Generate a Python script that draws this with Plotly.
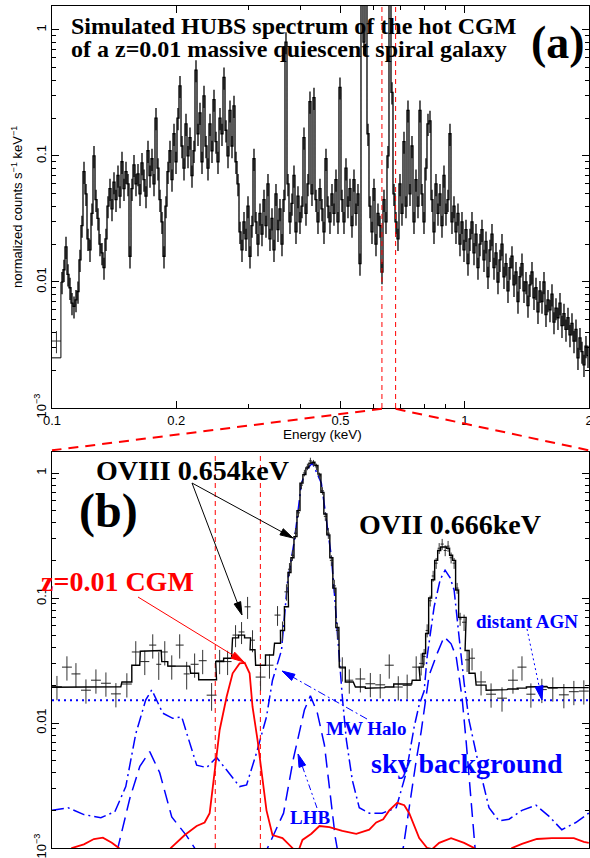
import math
import numpy as np
import plotly.graph_objects as go

# ============================ DATA ============================
# ---- panel (a): full-band simulated HUBS spectrum (normalized counts s^-1 keV^-1)
# bins are narrow, log-spaced; first / last bin centres in keV
spec_e_min, spec_e_max = 10 ** -0.97577, 10 ** 0.29857
spec_counts = [
    0.0100, 0.0125, 0.019, 0.0115, 0.0090, 0.0068, 0.0064, 0.0072, 0.0084, 0.0150,
    0.028, 0.075, 0.050, 0.022, 0.018, 0.035, 0.100, 0.045, 0.032, 0.020,
    0.017, 0.013, 0.022, 0.040, 0.055, 0.038, 0.062, 0.045, 0.070, 0.048,
    0.090, 0.055, 0.075, 0.060, 0.016, 0.055, 0.085, 0.060, 0.072, 0.050,
    0.088, 0.065, 0.048, 0.110, 0.070, 0.095, 0.060, 0.200, 0.080, 0.045,
    0.030, 0.016, 0.040, 0.075, 0.110, 0.065, 0.150, 0.090, 0.200, 0.360,
    0.120, 0.080, 0.180, 0.100, 0.140, 0.070, 0.110, 0.480, 0.150, 0.220,
    0.090, 0.300, 0.120, 0.080, 0.180, 0.110, 0.280, 0.130, 0.090, 0.200,
    0.150, 0.420, 0.160, 0.100, 0.230, 0.120, 0.250, 0.090, 0.060, 0.025,
    0.018, 0.030, 0.022, 0.040, 0.016, 0.028, 0.095, 0.030, 0.020, 0.035,
    0.024, 0.045, 0.028, 0.060, 0.022, 0.032, 0.018, 0.050, 0.026, 0.038,
    0.020, 0.045, 0.800, 0.060, 0.030, 0.042, 0.070, 0.025, 0.048, 0.030,
    0.040, 0.140, 0.035, 0.060, 0.270, 0.050, 0.290, 0.045, 0.030, 0.055,
    0.038, 0.025, 0.095, 0.040, 0.030, 0.050, 0.035, 0.065, 0.030, 0.350,
    0.045, 0.030, 0.080, 0.040, 0.055, 0.028, 0.065, 0.035, 0.050, 0.014,
    3.0, 0.8, 4.0, 0.15, 0.040, 0.025, 0.055, 0.020, 0.035, 0.028,
    0.012, 0.045, 0.030, 0.100, 3.0, 0.320, 0.050, 0.030, 0.022, 0.060,
    0.035, 0.130, 0.040, 0.230, 0.050, 0.120, 0.030, 0.065, 0.040, 0.230,
    0.050, 0.030, 0.080, 0.180, 0.190, 0.045, 0.025, 0.060, 0.035, 0.050,
    0.028, 0.070, 0.035, 0.045, 0.150, 0.030, 0.040, 0.025, 0.035, 0.020,
    0.030, 0.018, 0.026, 0.014, 0.022, 0.030, 0.017, 0.024, 0.013, 0.020,
    0.026, 0.015, 0.021, 0.011, 0.018, 0.024, 0.013, 0.017, 0.010, 0.015,
    0.020, 0.011, 0.014, 0.0085, 0.013, 0.016, 0.0095, 0.012, 0.0070, 0.011,
    0.014, 0.0085, 0.010, 0.0065, 0.0095, 0.012, 0.0075, 0.0090, 0.0058, 0.0085,
    0.0070, 0.0100, 0.0055, 0.0072, 0.0060, 0.0080, 0.0048, 0.0062, 0.0052, 0.0068,
    0.0045, 0.0056, 0.0042, 0.0052, 0.0038, 0.0047, 0.0034, 0.0042, 0.0025, 0.0036,
    0.0028, 0.0022, 0.0031, 0.0026,
]
spec_rel_err = 0.20
first_bin_edges = [0.100, 0.1051]     # wide lowest-energy bin (keV)
first_bin_data = 0.0034
first_bin_model = 0.0025
zoom_window_kev = [0.630, 0.680]      # region shown in panel (b)

# ---- panel (b): zoom on the O VIII / O VII region (energies in eV)
zoom_e_ev = [
    630.46, 631.39, 632.23, 633.16, 634.09, 635.02, 635.95, 636.97, 637.80, 638.64,
    639.38, 639.94, 640.50, 641.15, 641.89, 642.54, 643.28, 644.03, 644.86, 645.61,
    646.35, 647.09, 647.65, 648.21, 648.67, 649.42, 650.25, 651.00, 651.46, 651.83,
    652.11, 652.39, 652.67, 652.95, 653.23, 653.50, 653.78, 654.06, 654.34, 654.62,
    654.90, 655.18, 655.45, 655.73, 656.01, 656.29, 656.57, 657.03, 657.68, 658.71,
    659.64, 660.56, 661.40, 662.24, 663.07, 663.91, 664.37, 664.65, 664.93, 665.21,
    665.49, 665.77, 666.05, 666.33, 666.61, 666.88, 667.16, 667.44, 667.72, 668.00,
    668.37, 668.65, 669.11, 669.95, 670.88, 671.90, 672.92, 673.76, 674.59, 675.61,
    676.63, 677.66, 678.59, 679.52,
]
zoom_hw_ev = [
    0.46, 0.46, 0.42, 0.46, 0.46, 0.46, 0.46, 0.46, 0.37, 0.42,
    0.33, 0.23, 0.28, 0.37, 0.37, 0.28, 0.37, 0.37, 0.46, 0.37,
    0.37, 0.28, 0.28, 0.28, 0.23, 0.46, 0.37, 0.28, 0.19, 0.19,
    0.14, 0.14, 0.14, 0.14, 0.14, 0.14, 0.14, 0.14, 0.14, 0.14,
    0.14, 0.14, 0.14, 0.14, 0.14, 0.14, 0.14, 0.28, 0.37, 0.46,
    0.46, 0.46, 0.42, 0.42, 0.42, 0.37, 0.19, 0.14, 0.14, 0.14,
    0.14, 0.14, 0.14, 0.14, 0.14, 0.14, 0.14, 0.14, 0.14, 0.14,
    0.19, 0.19, 0.28, 0.46, 0.46, 0.46, 0.46, 0.42, 0.42, 0.46,
    0.46, 0.46, 0.46, 0.46,
]
zoom_data = [
    0.0195, 0.0280, 0.0247, 0.0183, 0.0220, 0.0208, 0.0171, 0.0205, 0.0370, 0.0310,
    0.0420, 0.0295, 0.0370, 0.0285, 0.0420, 0.0247, 0.0295, 0.0315, 0.0167, 0.0315,
    0.0310, 0.0505, 0.0535, 0.0850, 0.0460, 0.0233, 0.0290, 0.0730, 0.0550, 0.1120,
    0.17, 0.22, 0.33, 0.48, 0.80, 1.00, 1.12, 1.25, 1.20, 1.12,
    0.95, 0.72, 0.45, 0.33, 0.20, 0.125, 0.055, 0.0275, 0.0220, 0.0225,
    0.0206, 0.0202, 0.0290, 0.0194, 0.0200, 0.0280, 0.0300, 0.034, 0.055, 0.095,
    0.15, 0.19, 0.25, 0.27, 0.24, 0.26, 0.21, 0.19, 0.12, 0.068,
    0.064, 0.032, 0.033, 0.0213, 0.0170, 0.0158, 0.0220, 0.0280, 0.0170, 0.0185,
    0.0190, 0.0168, 0.0178, 0.0180,
]
zoom_model = [
    0.0193, 0.0193, 0.0193, 0.0193, 0.0193, 0.0193, 0.0195, 0.0213, 0.0290, 0.0375,
    0.0380, 0.0380, 0.0310, 0.0285, 0.0285, 0.0285, 0.0250, 0.0222, 0.0222, 0.0310,
    0.0330, 0.0480, 0.0505, 0.0480, 0.0385, 0.0290, 0.0350, 0.0435, 0.0550, 0.0850,
    0.16, 0.21, 0.31, 0.50, 0.83, 0.97, 1.10, 1.20, 1.22, 1.15,
    0.98, 0.70, 0.47, 0.32, 0.21, 0.12, 0.058, 0.0280, 0.0213, 0.0194,
    0.0190, 0.0192, 0.0194, 0.0205, 0.0205, 0.0220, 0.0280, 0.036, 0.052, 0.10,
    0.14, 0.20, 0.24, 0.256, 0.256, 0.25, 0.22, 0.20, 0.116, 0.070,
    0.070, 0.038, 0.025, 0.0201, 0.0183, 0.0185, 0.0187, 0.0190, 0.0194, 0.0196,
    0.0192, 0.0190, 0.0190, 0.0192,
]
zoom_rel_err = [
    0.22, 0.22, 0.22, 0.22, 0.22, 0.22, 0.22, 0.22, 0.22, 0.22,
    0.22, 0.25, 0.22, 0.22, 0.22, 0.25, 0.22, 0.22, 0.25, 0.22,
    0.22, 0.20, 0.20, 0.20, 0.20, 0.22, 0.22, 0.18, 0.18, 0.15,
    0.12, 0.10, 0.10, 0.08, 0.07, 0.06, 0.06, 0.06, 0.06, 0.06,
    0.06, 0.07, 0.08, 0.10, 0.10, 0.12, 0.15, 0.22, 0.22, 0.22,
    0.22, 0.22, 0.22, 0.22, 0.22, 0.22, 0.20, 0.15, 0.12, 0.10,
    0.10, 0.10, 0.10, 0.10, 0.10, 0.10, 0.10, 0.10, 0.10, 0.12,
    0.15, 0.20, 0.20, 0.22, 0.22, 0.22, 0.22, 0.22, 0.22, 0.22,
    0.22, 0.22, 0.22, 0.22,
]
# MW halo component (dash-dot)
halo_e_ev = [
    630.00, 631.49, 632.97, 634.55, 635.85, 636.87, 637.80, 638.73, 639.29, 640.31,
    641.24, 642.08, 642.54, 643.47, 644.40, 645.33, 646.26, 647.47, 648.12, 649.05,
    649.97, 650.53, 651.37, 651.65, 651.92, 652.57, 653.23, 653.69, 654.25, 655.08,
    655.64, 656.01, 656.29, 656.57, 656.75, 657.03, 657.41, 657.96, 658.61, 659.54,
    660.75, 662.05, 662.98, 663.72, 664.19, 664.65, 664.93, 665.58, 666.14, 666.60,
    667.07, 667.44, 667.90, 668.37, 668.83, 669.76, 670.69, 671.62, 672.55, 673.76,
    675.06, 676.26, 677.47, 678.77, 679.98,
]
halo_val = [
    0.0020, 0.0021, 0.00185, 0.00175, 0.00195, 0.0031, 0.0082, 0.0153, 0.0184, 0.0120,
    0.0109, 0.0112, 0.0083, 0.0046, 0.0044, 0.0053, 0.0042, 0.0031, 0.0032, 0.0058,
    0.0112, 0.0220, 0.0382, 0.076, 0.132, 0.29, 0.83, 1.06, 1.20, 0.83,
    0.37, 0.214, 0.11, 0.053, 0.034, 0.0162, 0.0073, 0.0035, 0.0021, 0.0019,
    0.0019, 0.0021, 0.0040, 0.0093, 0.0140, 0.018, 0.034, 0.085, 0.14, 0.167,
    0.145, 0.116, 0.049, 0.021, 0.0105, 0.0045, 0.0021, 0.00165, 0.0017, 0.0020,
    0.0022, 0.0018, 0.0014, 0.0016, 0.0019,
]
# Local Hot Bubble component (dashed)
lhb_e_ev = [
    630.00, 635.39, 636.13, 637.25, 638.18, 639.10, 640.03, 641.15, 642.54, 643.28,
    644.21, 649.32, 650.07, 651.56, 652.48, 653.50, 654.06, 654.71, 655.36, 655.92,
    656.38, 656.75, 657.22, 661.87, 662.70, 663.91, 664.37, 665.11, 665.86, 666.51,
    667.16, 667.63, 668.18, 668.55, 669.02, 669.39, 669.95, 679.98,
]
lhb_val = [
    0.0005, 0.0006, 0.0010, 0.0025, 0.0045, 0.0059, 0.0040, 0.00177, 0.00125, 0.0010,
    0.0006, 0.0006, 0.0010, 0.0019, 0.0052, 0.0127, 0.0165, 0.0120, 0.0067, 0.0025,
    0.00121, 0.0008, 0.0005, 0.0005, 0.0010, 0.0050, 0.0085, 0.024, 0.036, 0.049,
    0.043, 0.034, 0.016, 0.0073, 0.0025, 0.0010, 0.0005, 0.0005,
]
# z=0.01 CGM component (red)
cgm_e_ev = [
    630.00, 631.21, 631.86, 632.97, 633.90, 634.74, 635.57, 636.22, 637.06, 640.50,
    641.06, 642.36, 643.47, 644.21, 644.68, 645.14, 645.61, 646.26, 646.82, 647.47,
    647.94, 648.40, 648.67, 649.14, 649.61, 649.97, 650.53, 651.46, 652.39, 652.85,
    653.32, 654.15, 654.90, 655.83, 657.03, 658.33, 659.54, 660.19, 660.84, 661.40,
    662.14, 662.80, 663.26, 664.19, 664.93, 665.40, 666.05, 667.16, 668.37, 669.30,
    669.95, 671.62, 672.36, 672.83, 673.76, 675.15, 676.54, 677.75, 678.59, 679.52,
    679.98,
]
cgm_val = [
    0.0006, 0.0008, 0.00100, 0.00107, 0.00118, 0.00121, 0.0011, 0.00100, 0.0008, 0.0008,
    0.00100, 0.00127, 0.0015, 0.0016, 0.0019, 0.0040, 0.0088, 0.0162, 0.025, 0.030,
    0.0303, 0.025, 0.0135, 0.0073, 0.0033, 0.0020, 0.00127, 0.0012, 0.00100, 0.0009,
    0.00116, 0.0013, 0.0015, 0.00147, 0.00137, 0.0013, 0.0014, 0.0016, 0.0017, 0.0020,
    0.0023, 0.0022, 0.0019, 0.0012, 0.00100, 0.00098, 0.0011, 0.0012, 0.0011, 0.0010,
    0.0008, 0.0007, 0.0009, 0.0010, 0.00108, 0.00118, 0.0012, 0.0012, 0.0012, 0.00112,
    0.0011,
]
agn_level = 0.0152                 # distant AGN (flat, dotted)
cgm_window_ev = [645.2, 649.4]     # red dashed lines in panel (b)

# ============================ LAYOUT HELPERS ============================
W, H = 590, 858
ML, MR, MT, MB = 52, 1, 6, 10
PW, PH = W - ML - MR, H - MT - MB


def pxp(x):
    return (x - ML) / PW


def pyp(y):
    return (H - MB - y) / PH


TOP_DOM = [pyp(408), 1.0]
BOT_DOM = [0.0, pyp(452)]
TOP_YR = [-3, 0.19]
BOT_YR = [-3, 0.168]
TOP_XR = [-1, math.log10(2)]
BLUE = "#0000ff"
RED = "#ff0000"

fig = go.Figure()

# ============================ PANEL (a) ============================
spec_e = np.geomspace(spec_e_min, spec_e_max, len(spec_counts))
spec_y = np.array(spec_counts)
fig.add_trace(go.Scatter(
    x=spec_e, y=spec_y, mode="markers",
    marker=dict(size=1, color="rgba(0,0,0,0)"),
    error_y=dict(type="data", array=spec_y * spec_rel_err, arrayminus=spec_y * spec_rel_err,
                 color="#000000", thickness=1.3, width=0),
    xaxis="x", yaxis="y", hoverinfo="skip"))
fig.add_trace(go.Scatter(
    x=spec_e, y=spec_y, mode="lines", line=dict(color="black", width=1.3, shape="hvh"),
    xaxis="x", yaxis="y", hoverinfo="skip"))
fb_c = math.sqrt(first_bin_edges[0] * first_bin_edges[1])
fig.add_trace(go.Scatter(
    x=[fb_c], y=[first_bin_data], mode="markers", marker=dict(size=1, color="rgba(0,0,0,0)"),
    error_x=dict(type="data", array=[first_bin_edges[1] - fb_c], arrayminus=[fb_c - first_bin_edges[0]],
                 color="#333333", thickness=1, width=0),
    error_y=dict(type="data", array=[first_bin_data * spec_rel_err], arrayminus=[first_bin_data * spec_rel_err],
                 color="#333333", thickness=1, width=0),
    xaxis="x", yaxis="y"))
fig.add_trace(go.Scatter(
    x=[first_bin_edges[0], first_bin_edges[1], first_bin_edges[1], spec_e[0]],
    y=[first_bin_model, first_bin_model, spec_y[0], spec_y[0]],
    mode="lines", line=dict(color="black", width=1), xaxis="x", yaxis="y"))
for e in zoom_window_kev:
    fig.add_trace(go.Scatter(
        x=[e, e], y=[10 ** TOP_YR[0], 10 ** TOP_YR[1]], mode="lines",
        line=dict(color=RED, width=1, dash="5px,4px"), xaxis="x", yaxis="y"))

# ============================ PANEL (b) ============================
kev = lambda arr: [v / 1000.0 for v in arr]
fig.add_trace(go.Scatter(
    x=[zoom_window_kev[0], zoom_window_kev[1]], y=[agn_level, agn_level], mode="lines",
    line=dict(color=BLUE, width=2, dash="2px,4px"), xaxis="x2", yaxis="y2"))
fig.add_trace(go.Scatter(
    x=kev(halo_e_ev), y=halo_val, mode="lines",
    line=dict(color=BLUE, width=1.5, dash="12px,4px,2px,4px"), xaxis="x2", yaxis="y2"))
fig.add_trace(go.Scatter(
    x=kev(lhb_e_ev), y=lhb_val, mode="lines",
    line=dict(color=BLUE, width=1.5, dash="14px,7px"), xaxis="x2", yaxis="y2"))
fig.add_trace(go.Scatter(
    x=kev(cgm_e_ev), y=cgm_val, mode="lines",
    line=dict(color=RED, width=1.8), xaxis="x2", yaxis="y2"))
for e in cgm_window_ev:
    fig.add_trace(go.Scatter(
        x=[e / 1000.0, e / 1000.0], y=[10 ** BOT_YR[0], 10 ** BOT_YR[1]], mode="lines",
        line=dict(color=RED, width=1, dash="5px,4px"), xaxis="x2", yaxis="y2"))

zd = np.array(zoom_data)
ze = np.array(zoom_rel_err)
fig.add_trace(go.Scatter(
    x=kev(zoom_e_ev), y=zoom_data, mode="markers", marker=dict(size=1, color="rgba(0,0,0,0)"),
    error_x=dict(type="data", array=kev(zoom_hw_ev), color="#222222", thickness=1, width=0),
    error_y=dict(type="data", array=zd * ze, arrayminus=zd * ze, color="#333333", thickness=1, width=0),
    xaxis="x2", yaxis="y2"))
step_x, step_y = [], []
for c, hw, m in zip(zoom_e_ev, zoom_hw_ev, zoom_model):
    step_x += [(c - hw) / 1000.0, (c + hw) / 1000.0]
    step_y += [m, m]
fig.add_trace(go.Scatter(
    x=step_x, y=step_y, mode="lines", line=dict(color="black", width=1.4),
    xaxis="x2", yaxis="y2"))

# ============================ AXES ============================
tickfont = dict(family="Liberation Sans", size=13, color="black")
ymaj = [1e-3, 1e-2, 1e-1, 1]
ytxt = ["10<sup>\u22123</sup>", "0.01", "0.1", "1"]
ymin = [m * 10 ** p for p in (-3, -2, -1) for m in range(2, 10)]
yax = dict(type="log", tickvals=ymaj, ticktext=ytxt, tickangle=-90, ticks="inside", ticklen=7,
           tickcolor="black", showline=True, linecolor="black", linewidth=1, mirror="ticks",
           showgrid=False, zeroline=False, tickfont=tickfont, ticklabeloverflow="allow",
           minor=dict(tickvals=ymin, ticks="inside", ticklen=4, tickcolor="black", showgrid=False))

fig.update_layout(
    width=W, height=H, margin=dict(l=ML, r=MR, t=MT, b=MB, autoexpand=False),
    plot_bgcolor="white", paper_bgcolor="white", showlegend=False,
    xaxis=dict(type="log", range=TOP_XR, domain=[0, 1], anchor="y",
               tickvals=[0.1, 0.2, 0.5, 1, 2], ticktext=["0.1", "0.2", "0.5", "1", "2"],
               ticks="inside", ticklen=7, tickcolor="black", showline=True, linecolor="black",
               linewidth=1, mirror="ticks", showgrid=False, zeroline=False, tickfont=tickfont,
               ticklabeloverflow="allow",
               minor=dict(tickvals=[0.3, 0.4, 0.6, 0.7, 0.8, 0.9], ticks="inside", ticklen=4,
                          tickcolor="black", showgrid=False)),
    yaxis=dict(yax, range=TOP_YR, domain=TOP_DOM, anchor="x"),
    xaxis2=dict(range=[zoom_window_kev[0], zoom_window_kev[1]], domain=[0, 1], anchor="y2",
                showticklabels=False, ticks="", showline=True, linecolor="black", linewidth=1,
                mirror=True, showgrid=False, zeroline=False),
    yaxis2=dict(yax, range=BOT_YR, domain=BOT_DOM, anchor="x2"),
)

# ============================ SHAPES (zoom connectors, arrows) ============================
shapes = []
for e, xend in zip(zoom_window_kev, [0.0, 1.0]):
    xp = (math.log10(e) - TOP_XR[0]) / (TOP_XR[1] - TOP_XR[0])
    shapes.append(dict(type="line", xref="paper", yref="paper", x0=xp, y0=TOP_DOM[0] - 0.001,
                       x1=xend, y1=BOT_DOM[1] + 0.002, line=dict(color=RED, width=2, dash="10px,7px")))


def add_arrow(tail, head, color, dash="solid", width=1.0, hl=13, hw=7):
    tx, ty = tail
    hx, hy = head
    d = math.hypot(hx - tx, hy - ty)
    ux, uy = (hx - tx) / d, (hy - ty) / d
    bx, by = hx - ux * hl, hy - uy * hl
    nx, ny = -uy, ux
    shapes.append(dict(type="line", xref="paper", yref="paper", x0=pxp(tx), y0=pyp(ty),
                       x1=pxp(bx + ux * 2), y1=pyp(by + uy * 2),
                       line=dict(color=color, width=width, dash=dash)))
    p1 = (bx + nx * hw / 2, by + ny * hw / 2)
    p2 = (bx - nx * hw / 2, by - ny * hw / 2)
    path = "M {:.5f} {:.5f} L {:.5f} {:.5f} L {:.5f} {:.5f} Z".format(
        pxp(hx), pyp(hy), pxp(p1[0]), pyp(p1[1]), pxp(p2[0]), pyp(p2[1]))
    shapes.append(dict(type="path", xref="paper", yref="paper", path=path,
                       fillcolor=color, line=dict(color=color, width=1)))


add_arrow((192, 483), (242, 615), "black")
add_arrow((192, 483), (293, 538), "black")
add_arrow((138, 597), (244, 662), RED)
add_arrow((367, 719), (282, 671), BLUE, dash="8px,3px,2px,3px")
add_arrow((317, 808), (298, 754), BLUE, dash="6px,3px,2px,3px,2px,3px")
add_arrow((527, 629), (542, 700), BLUE, dash="2px,3px", hl=14, hw=8)
fig.update_layout(shapes=shapes)

# ============================ TEXT ============================
annots = []


def text(x, y, s, size, color="black", family="Liberation Serif", anchor="left", angle=0):
    annots.append(dict(xref="paper", yref="paper", x=pxp(x), y=pyp(y), text=s, showarrow=False,
                       xanchor=anchor, yanchor="middle", textangle=angle, borderpad=0,
                       font=dict(family=family, size=size, color=color)))


text(70, 26, "<b>Simulated HUBS spectrum of the hot CGM</b>", 24)
text(70, 49, "<b>of a z=0.01 massive quiescent spiral galaxy</b>", 24)
text(558, 42, "<b>(a)</b>", 46, anchor="center")
text(95, 470.5, "<b>OVIII 0.654keV</b>", 28)
text(108, 511, "<b>(b)</b>", 48, anchor="center")
text(40, 581.5, "<b>z=0.01 CGM</b>", 28, color=RED)
text(358, 524, "<b>OVII 0.666keV</b>", 28)
text(475, 621, "<b>distant AGN</b>", 19, color=BLUE)
text(325, 728, "<b>MW Halo</b>", 19, color=BLUE)
text(370, 763, "<b>sky background</b>", 28, color=BLUE)
text(289, 817, "<b>LHB</b>", 19, color=BLUE)
text(17, 207, "normalized counts s<sup>\u22121</sup> keV<sup>\u22121</sup>", 13,
     family="Liberation Sans", anchor="center", angle=-90)
text(322, 434, "Energy (keV)", 13.5, family="Liberation Sans", anchor="center")
fig.update_layout(annotations=annots)

# the page's default 8px body margin would shift the figure; remove it
fig.write_html("out.html", config={"displayModeBar": False},
               post_script="document.body.style.margin='0px';")
